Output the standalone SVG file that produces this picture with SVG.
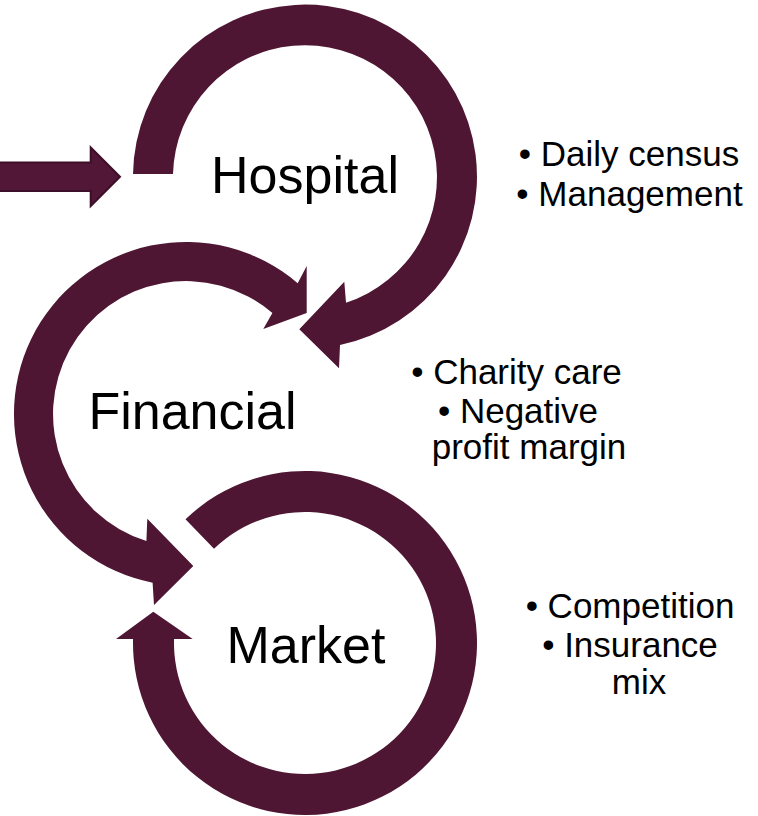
<svg xmlns="http://www.w3.org/2000/svg" width="758" height="816" viewBox="0 0 758 816">
  <style>
    .band { fill: #4f1634; stroke: none; }
    .entry { fill: #521737; stroke: #3e0f28; stroke-width: 2; stroke-linejoin: miter; }
    .label { font-family: "Liberation Sans", Arial, sans-serif; font-size: 52px; fill: #000; text-anchor: middle; }
    .note { font-family: "Liberation Sans", Arial, sans-serif; font-size: 35px; fill: #000; text-anchor: middle; }
  </style>
  <rect width="758" height="816" fill="#ffffff"/>

  <!-- entry arrow into the hospital loop -->
  <g id="connectors">
    <polygon class="entry" points="-2,162.5 90.7,162.5 90.7,147.5 120,176.7 90.7,206 90.7,191 -2,191"/>
  </g>

  <!-- Hospital: open loop ending in an arrow toward Financial -->
  <g id="node-hospital">
    <path class="band" d="M133,174 A172,172 0 1 1 340,345 L339,368.3 L299.3,329.3 L344.3,281.7 L346,302.7 A132,132 0 1 0 173,174 Z"/>
    <text class="label" x="305" y="193">Hospital</text>
    <text class="note" x="629" y="166">• Daily census</text>
    <text class="note" x="629.5" y="206">• Management</text>
  </g>

  <!-- Financial: arc with arrowheads at both ends -->
  <g id="node-financial">
    <path class="band" d="M297.7,283.2 L306.7,266 L306.7,313 L263.3,329 L272.4,312.9 A133,133 0 1 0 146.4,541 L147.3,518.7 L193.3,566 L154,605 L152.6,582.7 A172,172 0 1 1 297.7,283.2 Z"/>
    <text class="label" x="192.5" y="429">Financial</text>
    <text class="note" x="516.5" y="384">• Charity care</text>
    <text class="note" x="518" y="423">• Negative</text>
    <text class="note" x="529" y="459">profit margin</text>
  </g>

  <!-- Market: nearly closed loop returning upward on its left side -->
  <g id="node-market">
    <path class="band" d="M185.5,519.3 A172,172 0 1 1 133.05,639 L116,639 L153.3,611.7 L192.7,639 L174.06,639 A131,131 0 1 0 214,548.8 Z"/>
    <text class="label" x="306" y="663">Market</text>
    <text class="note" x="630" y="618">• Competition</text>
    <text class="note" x="630" y="657">• Insurance</text>
    <text class="note" x="639" y="694">mix</text>
  </g>
</svg>
